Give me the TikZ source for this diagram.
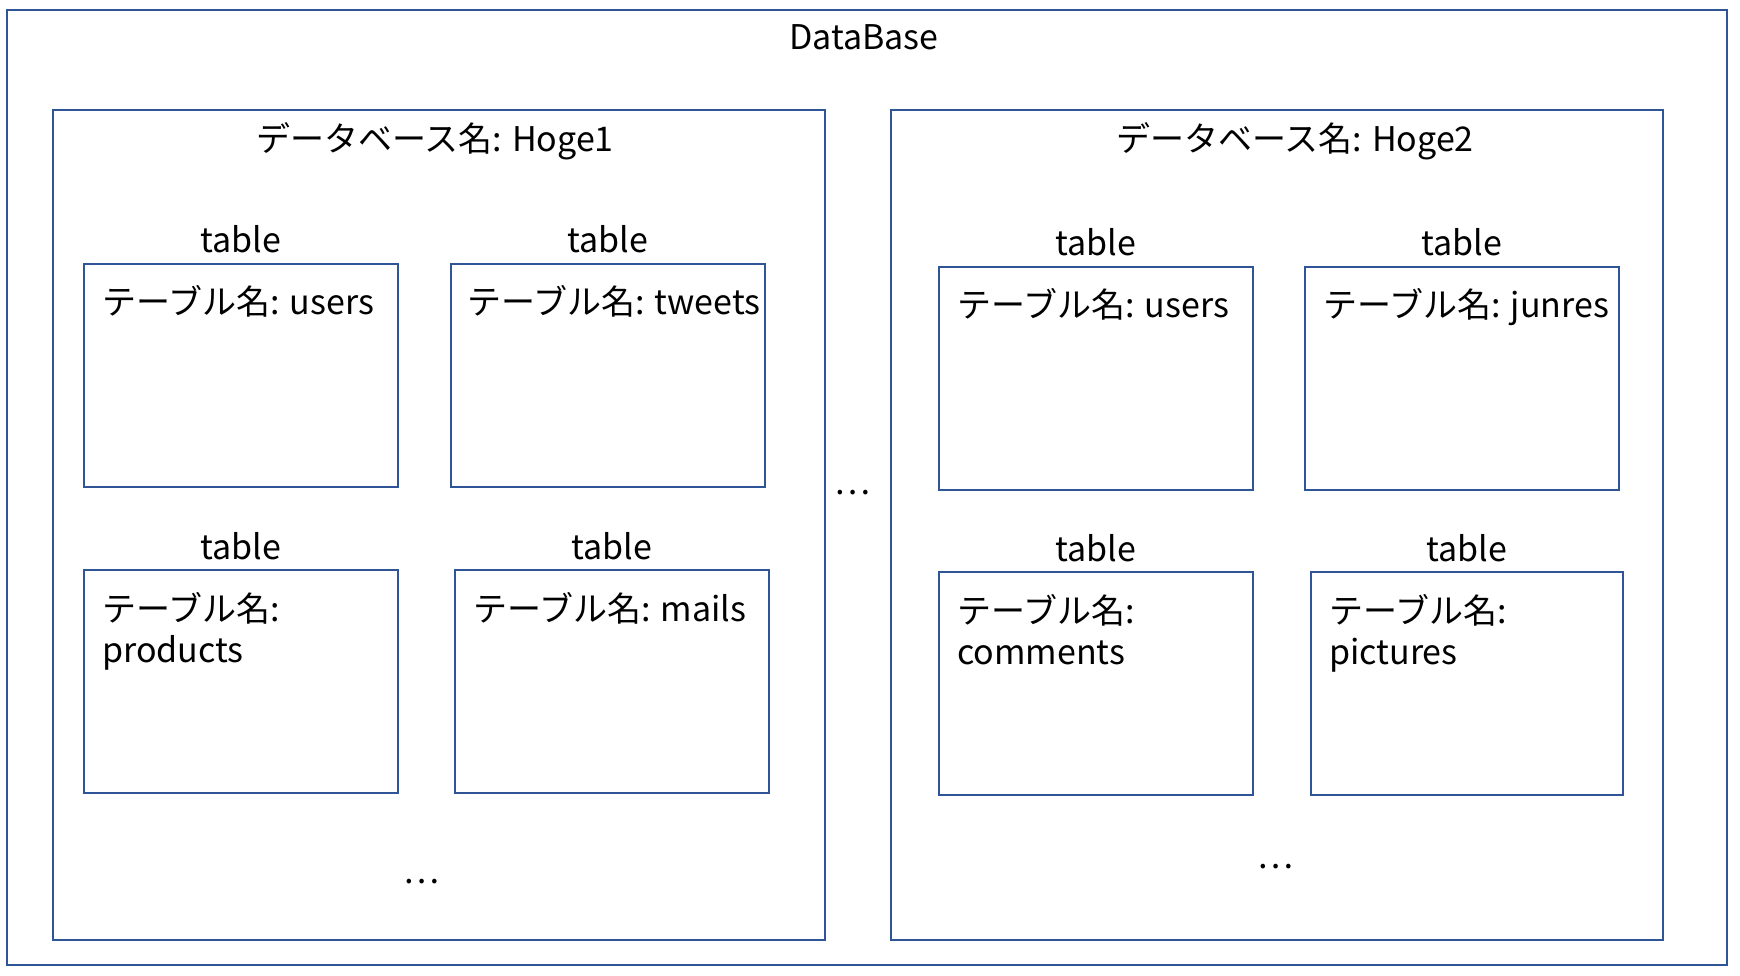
\documentclass[tikz,border=0pt]{standalone}
\usepackage{fontspec}
\setmainfont{Noto Sans CJK JP}
\usetikzlibrary{positioning}
\definecolor{boxblue}{RGB}{47,85,151}
\tikzstyle{frame} = [draw=boxblue, line width=2.2pt, rectangle,
    anchor=north west, inner sep=0pt]
\tikzstyle{tablebox} = [frame, minimum width=314pt, minimum height=223pt]
\tikzstyle{tabletitle} = [inner sep=0pt]
\tikzstyle{tablename} = [inner sep=0pt, anchor=base west, align=left]

\begin{document}
\begin{tikzpicture}[x=1pt, y=-1pt, font=\fontsize{34}{41}\selectfont]
    \useasboundingbox (0,0) rectangle (1740,976);

    % whole database
    \node[
        frame,
        minimum width=1720pt,
        minimum height=955pt
    ](db) at (6,9) {};
    \node[anchor=base](dbname) at (864,50) {DataBase};

    % Hoge1
    \node[
        frame,
        minimum width=772pt,
        minimum height=830pt
    ](hoge1) at (52,109) {};
    \node[anchor=base](hoge1name) at (435,152) {データベース名: Hoge1};

    \node[tablebox](users1) at (83,263) {};
    \node[tabletitle, above=10pt of users1, anchor=base](users1title) {table};
    \node[tablename](users1name) at ([shift={(19,52)}]users1.north west) {テーブル名: users};

    \node[tablebox](tweets) at (450,263) {};
    \node[tabletitle, above=10pt of tweets, anchor=base](tweetstitle) {table};
    \node[tablename](tweetsname) at ([shift={(17,52)}]tweets.north west) {テーブル名: tweets};

    \node[tablebox](products) at (83,569) {};
    \node[tabletitle, above=10pt of products, anchor=base](productstitle) {table};
    \node[tablename](productsname) at ([shift={(19,93)}]products.north west) {テーブル名:\\products};

    \node[tablebox](mails) at (454,569) {};
    \node[tabletitle, above=10pt of mails, anchor=base](mailstitle) {table};
    \node[tablename](mailsname) at ([shift={(19,52)}]mails.north west) {テーブル名: mails};

    \node(more1) at (421,882) {…};

    % between the databases
    \node(moredb) at (852,493) {…};

    % Hoge2
    \node[
        frame,
        minimum width=772pt,
        minimum height=830pt
    ](hoge2) at (890,109) {};
    \node[anchor=base](hoge2name) at (1295,152) {データベース名: Hoge2};

    \node[tablebox](users2) at (938,266) {};
    \node[tabletitle, above=10pt of users2, anchor=base](users2title) {table};
    \node[tablename](users2name) at ([shift={(19,52)}]users2.north west) {テーブル名: users};

    \node[tablebox](junres) at (1304,266) {};
    \node[tabletitle, above=10pt of junres, anchor=base](junrestitle) {table};
    \node[tablename](junresname) at ([shift={(19,52)}]junres.north west) {テーブル名: junres};

    \node[tablebox](comments) at (938,571) {};
    \node[tabletitle, above=10pt of comments, anchor=base](commentstitle) {table};
    \node[tablename](commentsname) at ([shift={(19,93)}]comments.north west) {テーブル名:\\comments};

    \node[tablebox, minimum width=312pt](pictures) at (1310,571) {};
    \node[tabletitle, above=10pt of pictures, anchor=base](picturestitle) {table};
    \node[tablename](picturesname) at ([shift={(19,93)}]pictures.north west) {テーブル名:\\pictures};

    \node(more2) at (1275,867) {…};
\end{tikzpicture}
\end{document}
